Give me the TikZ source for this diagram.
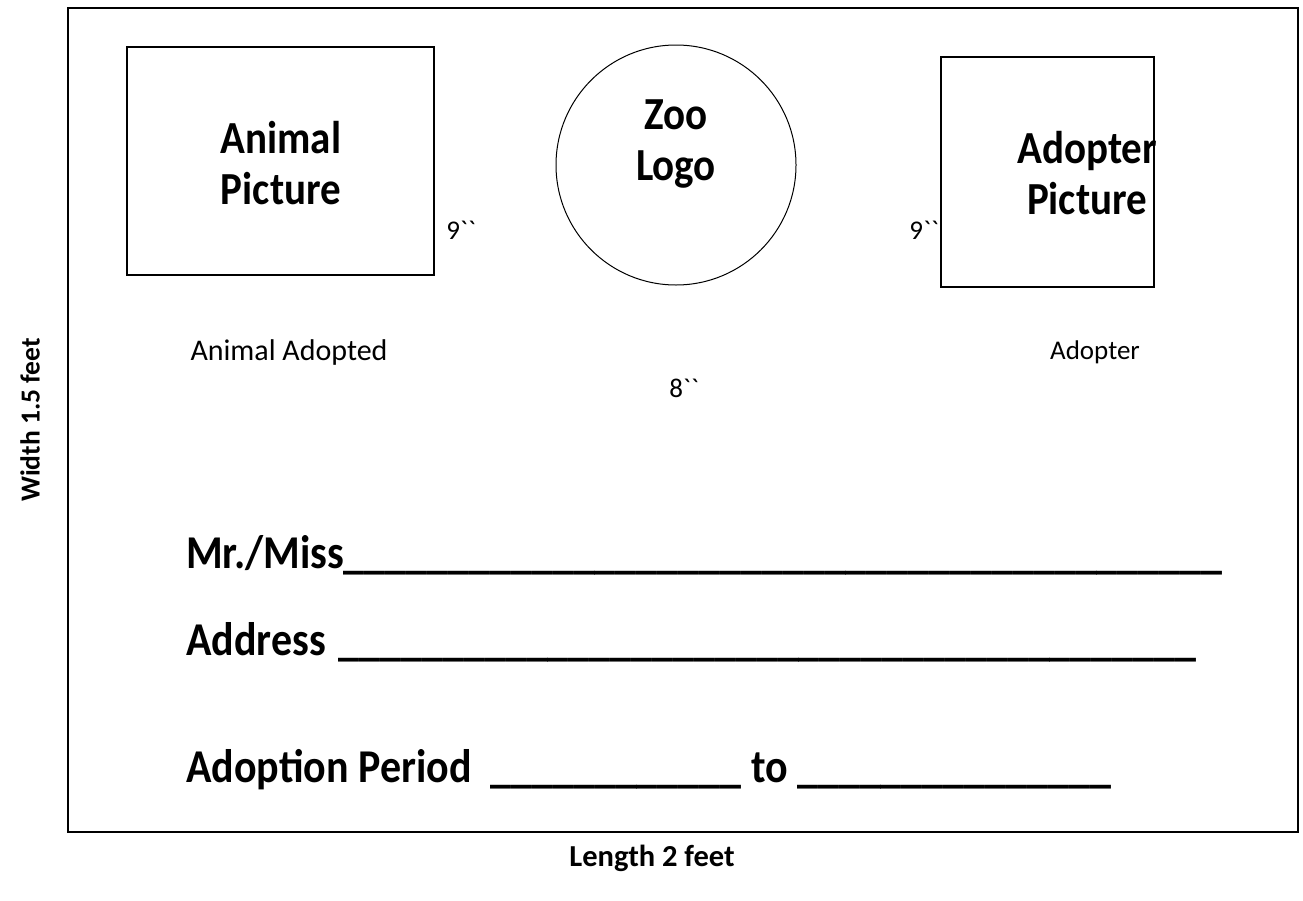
\documentclass[tikz,border=0pt]{standalone}
\usepackage{graphicx}
\usepackage{fontspec}
\setmainfont{Carlito}
\newcommand\blanks[1]{\foreach \i in {1,...,#1}{\_}}
\newcommand\ticks{\textasciigrave\textasciigrave}
\newcommand\tall[1]{\scalebox{1}[1.12]{#1}}
\begin{document}
\begin{tikzpicture}[x=1pt,y=-1pt,
  frame/.style={draw, line width=2pt},
  picbox/.style={draw, line width=1.4pt, inner sep=0pt},
  logo/.style={draw, circle, line width=1pt, inner sep=0pt},
  boxlabel/.style={font=\fontsize{41}{51}\selectfont\bfseries, align=center, inner sep=0pt},
  small/.style={font=\fontsize{27}{32}\selectfont, inner sep=0pt},
  formline/.style={font=\fontsize{42}{50}\selectfont\bfseries, anchor=base west, inner sep=0pt},
  dimlabel/.style={font=\fontsize{29}{34}\selectfont\bfseries, inner sep=0pt}]
\useasboundingbox (0,0) rectangle (1303,900);
\node[frame, minimum width=1230pt, minimum height=824pt, inner sep=0pt] (outer) at (683,420) {};
\node[picbox, minimum width=307pt, minimum height=228pt] (animalpic) at (280.5,161) {};
\node[boxlabel] (animaltxt) at (281,163) {\tall{Animal}\\\tall{Picture}};
\node[logo, minimum size=240pt] (logo) at (676,165) {};
\node[boxlabel] (logotxt) at (676,144) {\tall{Zoo}\\\tall{Logo}};
\node[picbox, minimum width=213pt, minimum height=230pt] (adopterpic) at (1047.5,172) {};
\node[boxlabel] (adoptertxt) at (1087,173) {\tall{Adopter}\\\tall{Picture}};
\node[small] (nineleft) at (461,230) {9\ticks};
\node[small] (nineright) at (924,230) {9\ticks};
\node[small, font=\fontsize{30}{34}\selectfont] (animaladopted) at (289,352) {Animal Adopted};
\node[small] (adopter) at (1095,352) {Adopter};
\node[small] (eight) at (684,388) {8\ticks};
\node[formline] (name) at (186,568) {\tall{Mr./Miss\blanks{42}}};
\node[formline] (address) at (186,655) {\tall{Address\hspace{13pt}\blanks{41}}};
\node[formline] (period) at (186,782) {\tall{Adoption Period \ \blanks{12} to \blanks{15}}};
\node[dimlabel, font=\fontsize{27.5}{32}\selectfont\bfseries, rotate=90] (width) at (30,420) {Width 1.5 feet};
\node[dimlabel, font=\fontsize{30.5}{34}\selectfont\bfseries] (length) at (652,858) {Length 2 feet};
\end{tikzpicture}
\end{document}
